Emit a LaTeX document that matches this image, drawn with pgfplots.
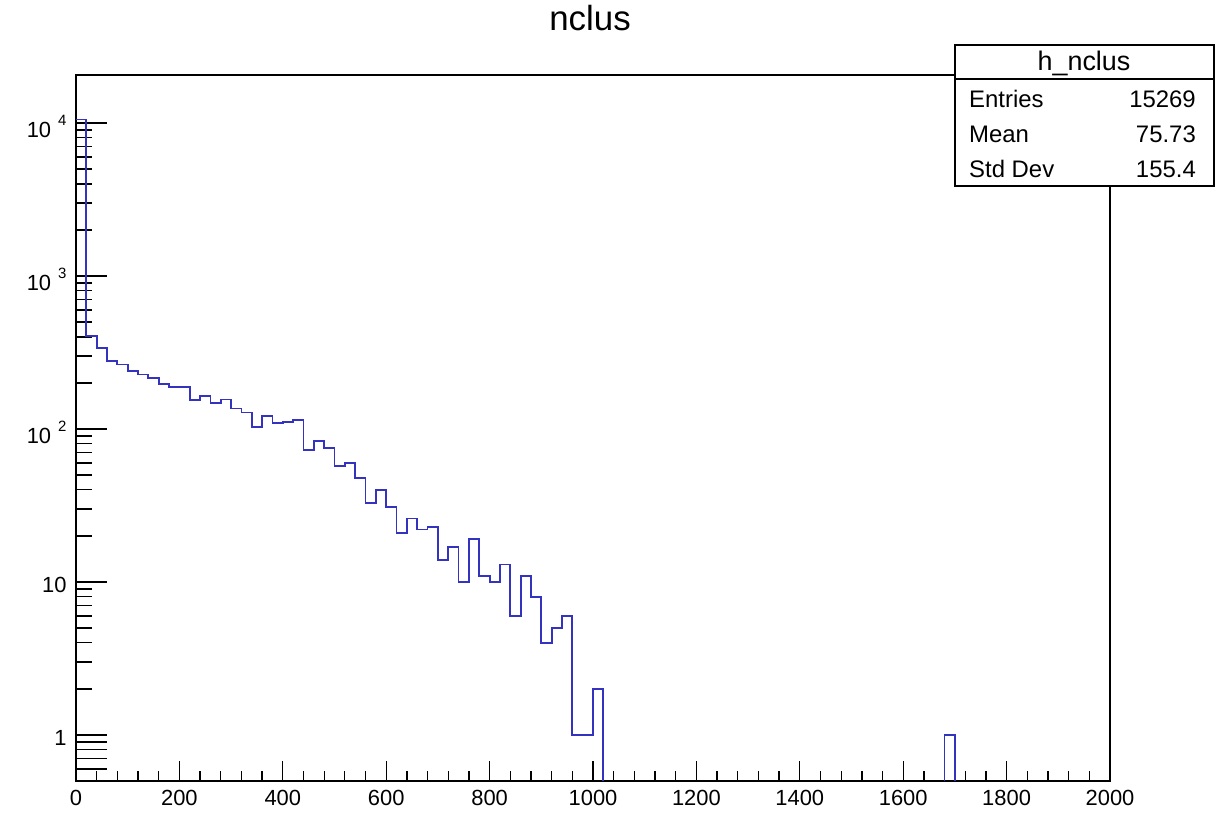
\documentclass[border=0pt]{standalone}
\usepackage{fontspec}
\setmainfont{Liberation Sans}
\usepackage{pgfplots}
\pgfplotsset{compat=1.18}
\definecolor{histblue}{rgb}{0.2,0.2,0.75}
\newcommand{\rootsup}[1]{\hspace{7bp}\raisebox{0.55em}{\fontsize{15}{15}\selectfont #1}}
\begin{document}
\begin{tikzpicture}[x=1bp,y=1bp]
\useasboundingbox (0,0) rectangle (1222,819);
\begin{axis}[
  at={(76bp,38bp)}, anchor=south west,
  width=1034bp, height=706bp, scale only axis,
  xmin=0, xmax=2000, ymode=log, ymin=0.5, ymax=20600,
  axis line style={line width=1.6bp},
  tick align=inside, xtick pos=bottom, ytick pos=left,
  xtick={0,200,...,2000}, minor x tick num=4,
  scaled x ticks=false,
  /pgf/number format/1000 sep={},
  /pgf/number format/assume math mode=true,
  ytick={1,10,100,1000,10000},
  yticklabels={1,10,10\rootsup{2},10\rootsup{3},10\rootsup{4}},
  extra y ticks={0.6,0.7,0.8,0.9},
  extra y tick labels={},
  extra y tick style={/pgfplots/major tick length=16bp},
  every tick/.style={black, line width=1.3bp},
  xtick style={/pgfplots/major tick length=20bp, /pgfplots/minor tick length=10bp},
  ytick style={/pgfplots/major tick length=31bp, /pgfplots/minor tick length=16bp},
  xticklabel style={font=\fontsize{22}{26}\selectfont, yshift=-6bp},
  yticklabel style={font=\fontsize{22}{26}\selectfont, xshift=-6bp, yshift=-3bp},
]
\addplot[const plot, histblue, line width=1.8bp] coordinates {
(0,10550)(20,404)(40,340)(60,279)(80,264)(100,238)(120,227)(140,216)(160,196)(180,189)
(200,188)(220,155)(240,164)(260,147)(280,156)(300,136)(320,128)(340,103)(360,122)(380,110)
(400,111)(420,115)(440,73)(460,83)(480,75)(500,57)(520,60)(540,48)(560,33)(580,40)
(600,31)(620,21)(640,26)(660,22)(680,23)(700,14)(720,17)(740,10)(760,19)(780,11)
(800,10)(820,13)(840,6)(860,11)(880,8)(900,4)(920,5)(940,6)(960,1)(980,1)
(1000,2)(1020,2)(1020,0.5)
};
\addplot[sharp plot, histblue, line width=1.8bp] coordinates {
(1680,0.5)(1680,1)(1700,1)(1700,0.5)
};
\end{axis}
\node[anchor=base, font=\fontsize{35}{40}\selectfont] at (590,788) {nclus};
\draw[line width=1.5bp, fill=white] (955,633) rectangle (1214,774);
\draw[line width=1.5bp] (955,740) -- (1214,740);
\node[anchor=base, font=\fontsize{27}{32}\selectfont] at (1084,748) {h\_nclus};
\node[anchor=base west, font=\fontsize{24}{28}\selectfont, inner sep=0] at (969,711) {Entries};
\node[anchor=base east, font=\fontsize{24}{28}\selectfont, inner sep=0] at (1196,711) {15269};
\node[anchor=base west, font=\fontsize{24}{28}\selectfont, inner sep=0] at (969,676) {Mean};
\node[anchor=base east, font=\fontsize{24}{28}\selectfont, inner sep=0] at (1196,676) {75.73};
\node[anchor=base west, font=\fontsize{24}{28}\selectfont, inner sep=0] at (969,641) {Std Dev};
\node[anchor=base east, font=\fontsize{24}{28}\selectfont, inner sep=0] at (1196,641) {155.4};
\end{tikzpicture}
\end{document}
